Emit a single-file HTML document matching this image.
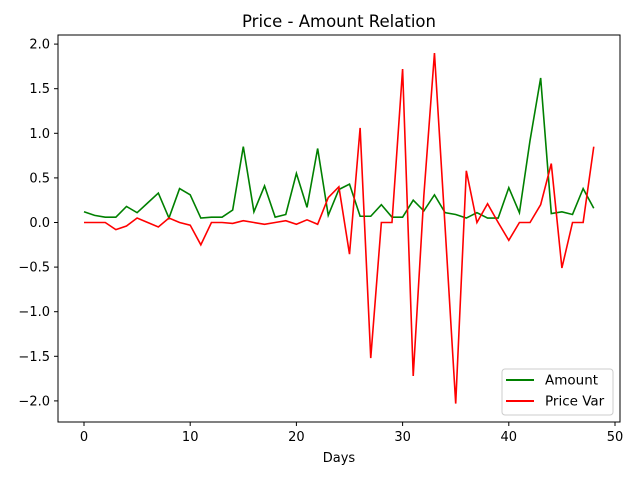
<!DOCTYPE html>
<html><head><meta charset="utf-8"><style>
body{margin:0;background:#fff;}
svg text{font-family:"DejaVu Sans","Liberation Sans",sans-serif;}
</style></head><body>
<svg width="640" height="480" id="chart">
<rect width="640" height="480" fill="#fff"/>
<text x="339" y="27" font-size="16.5" text-anchor="middle">Price - Amount Relation</text>
<g id="marks"></g>
<rect x="58" y="35" width="562" height="387" fill="none" stroke="#000" stroke-width="1"/>
<g id="axes" font-size="13"></g>
<text x="339" y="462" font-size="13" text-anchor="middle">Days</text>
<g>
<rect x="502" y="369" width="111" height="46" rx="3" fill="#fff" fill-opacity="0.8" stroke="#ccc"/>
<line x1="506" y1="380" x2="534" y2="380" stroke="green" stroke-width="2"/>
<text x="545" y="384.5" font-size="13.5">Amount</text>
<line x1="506" y1="401" x2="534" y2="401" stroke="red" stroke-width="2"/>
<text x="545" y="405.5" font-size="13.5">Price Var</text>
</g>
</svg>
<script>
const amount=[0.12,0.08,0.06,0.06,0.18,0.11,0.22,0.33,0.05,0.38,0.31,0.05,0.06,0.06,0.14,0.85,0.12,0.41,0.06,0.09,0.55,0.17,0.83,0.08,0.37,0.43,0.07,0.07,0.2,0.06,0.06,0.25,0.13,0.31,0.11,0.09,0.05,0.11,0.05,0.05,0.39,0.11,0.92,1.62,0.1,0.12,0.09,0.38,0.16];
const priceVar=[0,0,0,-0.08,-0.04,0.05,0,-0.05,0.05,0,-0.03,-0.25,0,0,-0.01,0.02,0,-0.02,0,0.02,-0.02,0.03,-0.02,0.28,0.40,-0.355,1.06,-1.52,0,0,1.72,-1.72,0.3,1.9,-0.05,-2.03,0.58,0,0.21,0,-0.2,0,0,0.2,0.66,-0.51,0,0,0.85];
const xTicks=[0,10,20,30,40,50];
const yTicks=[-2.0,-1.5,-1.0,-0.5,0.0,0.5,1.0,1.5,2.0];
const X=v=>84+v*10.62;
const Y=v=>222.5-v*89.2;
const NS='http://www.w3.org/2000/svg';
const marks=document.getElementById('marks'),axes=document.getElementById('axes');
function line(arr,color,name){
  const p=document.createElementNS(NS,'polyline');
  p.setAttribute('points',arr.map((v,i)=>X(i)+','+Y(v)).join(' '));
  p.setAttribute('fill','none');p.setAttribute('stroke',color);p.setAttribute('stroke-width','1.6');
  
  
  marks.appendChild(p);
}
line(amount,'green','amount-line');
line(priceVar,'red','price-var-line');
xTicks.forEach(t=>{
  const l=document.createElementNS(NS,'line');
  l.setAttribute('x1',X(t));l.setAttribute('x2',X(t));l.setAttribute('y1',422);l.setAttribute('y2',426);l.setAttribute('stroke','#000');
  
  
  axes.appendChild(l);
  const s=document.createElementNS(NS,'text');
  s.setAttribute('x',X(t));s.setAttribute('y',441);s.setAttribute('text-anchor','middle');s.textContent=t;
  
  
  axes.appendChild(s);
});
yTicks.forEach(t=>{
  const l=document.createElementNS(NS,'line');
  l.setAttribute('x1',54);l.setAttribute('x2',58);l.setAttribute('y1',Y(t));l.setAttribute('y2',Y(t));l.setAttribute('stroke','#000');
  
  
  axes.appendChild(l);
  const s=document.createElementNS(NS,'text');
  s.setAttribute('x',50);s.setAttribute('y',Y(t)+4.5);s.setAttribute('text-anchor','end');
  s.textContent=(t<0?'\u2212':'')+Math.abs(t).toFixed(1);
  
  
  axes.appendChild(s);
});
</script>
</body></html>
